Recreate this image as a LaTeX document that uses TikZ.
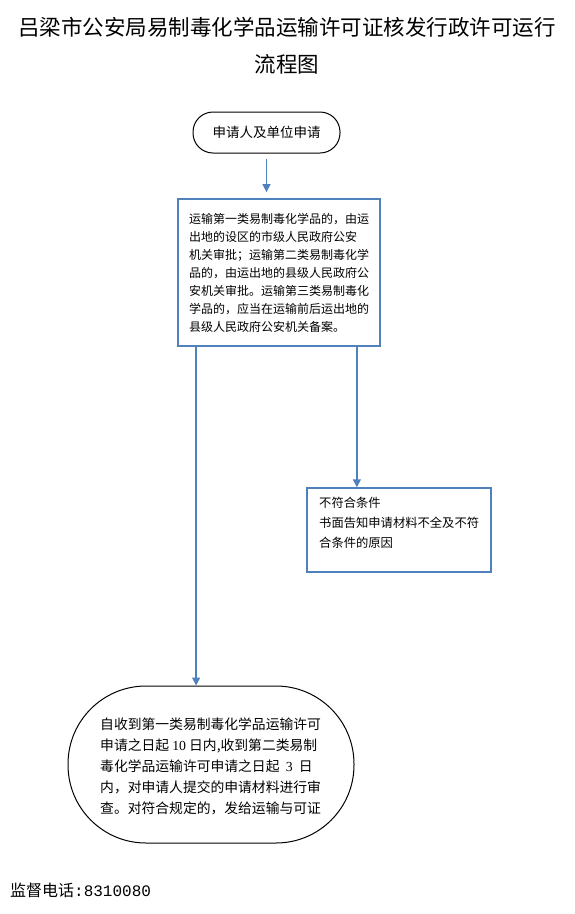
\documentclass[tikz,border=0pt]{standalone}
\usepackage{fontspec}
\newfontfamily\cjk{Noto Sans CJK SC}
\newfontfamily\lat{Liberation Serif}
\newfontfamily\mono{Liberation Mono}
\usetikzlibrary{arrows.meta,calc}
\definecolor{flowblue}{HTML}{4F81BD}
\tikzset{
  conn/.style={draw=flowblue, line width=1.5pt, -{Triangle[length=8pt,width=8pt]}},
  bluebox/.style={draw=flowblue, line width=1.8pt, inner sep=0pt},
  blackshape/.style={draw=black, line width=1pt, inner sep=0pt},
  smalltext/.style={font=\cjk\fontsize{12}{18}\selectfont, align=left},
}
\begin{document}
\begin{tikzpicture}[x=1pt,y=-1pt]
\useasboundingbox (0,0) rectangle (575,914);
\fill[white] (0,0) rectangle (575,914);
\node[font=\cjk\fontsize{21.5}{24}\selectfont, inner sep=0pt] (title1) at (287,27) {吕梁市公安局易制毒化学品运输许可证核发行政许可运行};
\node[font=\cjk\fontsize{21.5}{24}\selectfont, inner sep=0pt] (title2) at (287,64) {流程图};

\node[blackshape, rounded corners=20pt, minimum width=147pt, minimum height=41pt,
      font=\cjk\fontsize{13.5}{16}\selectfont] (start) at (266.5,132.5) {申请人及单位申请};

\node[bluebox, minimum width=202pt, minimum height=147pt, text width=180pt,
      font=\cjk\fontsize{12}{18}\selectfont, align=left] (rule) at (279,272.5)
  {运输第一类易制毒化学品的，由运\\出地的设区的市级人民政府公安\\机关审批；运输第二类易制毒化学\\品的，由运出地的县级人民政府公\\安机关审批。运输第三类易制毒化\\学品的，应当在运输前后运出地的\\县级人民政府公安机关备案。};

\node[bluebox, line width=1.5pt, minimum width=184pt, minimum height=84pt] (reject) at (399,530) {};
\node[smalltext, font=\cjk\fontsize{12.3}{20}\selectfont, anchor=north west, inner sep=0pt] (rejecttext) at (319,497)
  {不符合条件\\书面告知申请材料不全及不符\\合条件的原因};

\node[blackshape, rounded corners=78pt, minimum width=286pt, minimum height=157pt] (ell) at (211,764.5) {};
\node[font=\cjk\fontsize{13.8}{21}\selectfont, align=left, anchor=west, inner sep=0pt] (elltext) at (100,766)
  {自收到第一类易制毒化学品运输许可\\申请之日起 {\lat 10} 日内,收到第二类易制\\毒化学品运输许可申请之日起 \ {\lat 3} \ 日\\内，对申请人提交的申请材料进行审\\查。对符合规定的，发给运输与可证};

\node[font=\cjk\fontsize{16}{18}\selectfont, anchor=west, inner sep=0pt] (phone) at (10,890) {监督电话{\mono :8310080}};

\draw[conn, shorten <=5pt, shorten >=6pt] (start.south) -- (start.south |- rule.north);
\coordinate (la) at ([xshift=19pt]rule.south west);
\coordinate (ra) at ([xshift=-24pt]rule.south east);
\draw[conn] (la) -- (la |- ell.north);
\draw[conn] (ra) -- (ra |- reject.north);
\end{tikzpicture}
\end{document}
